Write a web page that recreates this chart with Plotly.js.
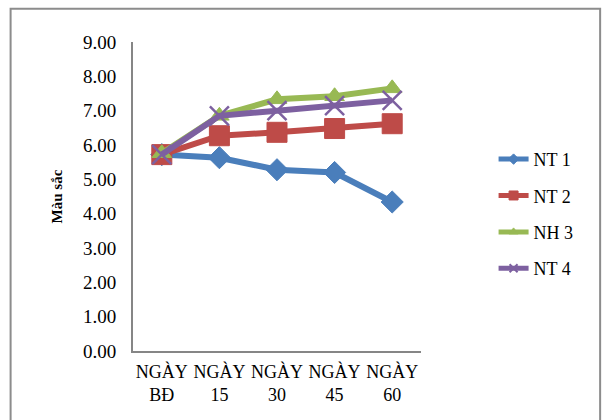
<!DOCTYPE html>
<html>
<head>
<meta charset="utf-8">
<script src="https://cdn.plot.ly/plotly-3.0.1.min.js"></script>
<style>html,body{margin:0;padding:0;background:#fff;}#chart{width:606px;height:420px;}</style>
</head>
<body>
<div id="chart"></div>
<script>
const categories = ['NGÀY<br>BĐ', 'NGÀY<br>15', 'NGÀY<br>30', 'NGÀY<br>45', 'NGÀY<br>60'];
const seriesNames = ['NT 1', 'NT 2', 'NH 3', 'NT 4'];
const nt1 = [5.72, 5.63, 5.28, 5.20, 4.34];
const nt2 = [5.72, 6.27, 6.37, 6.48, 6.62];
const nh3 = [5.76, 6.85, 7.33, 7.42, 7.65];
const nt4 = [5.72, 6.85, 7.00, 7.15, 7.30];
const yTitle = 'Màu sắc';

const colors = ['#4A7EBB', '#BE4B48', '#98B954', '#7D60A0'];
const symbols = ['diamond', 'square', 'triangle-up', 'x-thin-open'];
const sizes = [17, 20, 17, 19];
const legendSizes = [8, 9, 8, 8];
const values = [nt1, nt2, nh3, nt4];

const traces = [];
values.forEach((v, i) => {
  traces.push({
    type: 'scatter',
    mode: 'lines+markers',
    name: seriesNames[i],
    showlegend: false,
    x: categories,
    y: v,
    line: {color: colors[i], width: 6},
    marker: {
      symbol: symbols[i],
      size: sizes[i],
      color: colors[i],
      line: {color: colors[i], width: i === 3 ? 2.5 : 1}
    }
  });
});
values.forEach((v, i) => {
  traces.push({
    type: 'scatter',
    mode: 'lines+markers',
    name: seriesNames[i],
    legendgroup: 'g' + i,
    x: [null],
    y: [null],
    line: {color: colors[i], width: 5},
    marker: {
      symbol: symbols[i],
      size: legendSizes[i],
      color: colors[i],
      line: {color: colors[i], width: i === 3 ? 2 : 1}
    }
  });
});

const serif = "'Liberation Serif', 'Times New Roman', serif";

const layout = {
  width: 606,
  height: 420,
  margin: {l: 133, r: 185, t: 42, b: 69},
  paper_bgcolor: '#ffffff',
  plot_bgcolor: '#ffffff',
  font: {family: serif, color: '#000000', size: 18},
  showlegend: true,
  legend: {
    x: 1.252, xanchor: 'left',
    y: 0.68, yanchor: 'top',
    font: {family: serif, size: 18, color: '#000'},
    tracegroupgap: 10,
    bgcolor: 'rgba(0,0,0,0)'
  },
  xaxis: {
    type: 'category',
    range: [-0.5, 4.5],
    showline: true,
    linecolor: '#868686',
    linewidth: 2,
    showgrid: false,
    zeroline: false,
    ticks: '',
    ticklabelstandoff: 3,
    tickfont: {family: serif, size: 18, color: '#000'},
    fixedrange: true
  },
  yaxis: {
    range: [0, 9],
    dtick: 1,
    tick0: 0,
    tickformat: '.2f',
    showline: true,
    linecolor: '#868686',
    linewidth: 2,
    showgrid: false,
    zeroline: false,
    ticks: '',
    ticklabelstandoff: 11,
    tickfont: {family: serif, size: 19, color: '#000'},
    title: {text: '<b>' + yTitle + '</b>', font: {family: serif, size: 15, color: '#000'}, standoff: 17},
    fixedrange: true
  },
  shapes: [{
    type: 'rect', xref: 'paper', yref: 'paper',
    x0: -0.425, x1: 1.622, y0: -0.25, y1: 1.108,
    line: {color: '#8c8c8c', width: 2},
    fillcolor: 'rgba(0,0,0,0)',
    layer: 'below'
  }]
};

Plotly.newPlot('chart', traces, layout, {displayModeBar: false, staticPlot: true});
</script>
</body>
</html>
